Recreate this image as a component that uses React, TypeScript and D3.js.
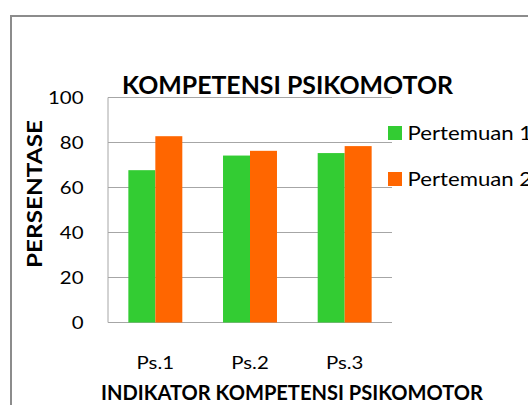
import React from 'react';
import * as d3 from 'd3';

// data
const categories = ['Ps.1', 'Ps.2', 'Ps.3'];
const seriesNames = ['Pertemuan 1', 'Pertemuan 2'];
const pertemuan1 = [67.7, 74.2, 75.3];
const pertemuan2 = [82.8, 76.3, 78.4];
const yTicks = [0, 20, 40, 60, 80, 100];
const colors = ['#33CC33', '#FF6600'];

const FONT = 'Lato, "Open Sans", sans-serif';
const SX = 1.2; // reference text is a bit stretched horizontally

export default function App() {
  const left = 108, right = 392, top = 97.5, bottom = 322.5;

  const x0 = d3.scaleBand<string>().domain(categories).range([left, right]);
  const bw = x0.bandwidth();
  const x1 = d3.scaleBand<string>().domain(seriesNames).range([bw * 0.215, bw * 0.785]);
  const y = d3.scaleLinear().domain([0, 100]).range([bottom, top]);

  const values = [pertemuan1, pertemuan2];

  return (
    <svg width={528} height={405} style={{ position: 'absolute', left: 0, top: 0, background: '#fff' }}>
      <rect x={11} y={16} width={600} height={500} fill="#fff" stroke="#8c8c8c" strokeWidth={2} />

      {/* grid */}
      {yTicks.map(t => (
        <line key={t} x1={left} x2={right} y1={y(t)} y2={y(t)} stroke="#a6a6a6" strokeWidth={1} />
      ))}
      <line x1={left} x2={left} y1={top} y2={bottom} stroke="#a6a6a6" strokeWidth={1} />

      {/* bars */}
      {categories.map((c, i) =>
        seriesNames.map((s, j) => (
          <rect key={c + s}
            x={(x0(c) as number) + (x1(s) as number)}
            y={y(values[j][i])}
            width={x1.bandwidth()}
            height={bottom - y(values[j][i])}
            fill={colors[j]} />
        ))
      )}

      {/* y tick labels */}
      {yTicks.map(t => (
        <text key={t} transform={`translate(83.5,${y(t)}) scale(${SX},1)`} dy="0.36em" textAnchor="end"
          fontFamily={FONT} fontSize={17} fill="#000">{t}</text>
      ))}

      {/* x tick labels */}
      {categories.map(c => (
        <text key={c} transform={`translate(${(x0(c) as number) + bw / 2},369) scale(${SX},1)`} textAnchor="middle"
          fontFamily={FONT} fontSize={17} fill="#000">{c}</text>
      ))}

      {/* titles */}
      <text x={287.5} y={93.5} textAnchor="middle" fontFamily={FONT} fontWeight="bold" fontSize={24}
        textLength={331} lengthAdjust="spacingAndGlyphs" fill="#000">KOMPETENSI PSIKOMOTOR</text>
      <text x={292} y={399.5} textAnchor="middle" fontFamily={FONT} fontWeight="bold" fontSize={20}
        textLength={382} lengthAdjust="spacingAndGlyphs" fill="#000">INDIKATOR KOMPETENSI PSIKOMOTOR</text>
      <text transform="translate(42,194) rotate(-90)" textAnchor="middle" fontFamily={FONT} fontWeight="bold" fontSize={20}
        textLength={148} lengthAdjust="spacingAndGlyphs" fill="#000">PERSENTASE</text>

      {/* legend */}
      {seriesNames.map((s, j) => (
        <g key={s} transform={`translate(388,${126 + j * 46})`}>
          <rect width={14} height={14} fill={colors[j]} />
          <text transform={`translate(19.5,14) scale(${SX},1)`} fontFamily={FONT} fontSize={18.5} fill="#000">{s}</text>
        </g>
      ))}
    </svg>
  );
}
